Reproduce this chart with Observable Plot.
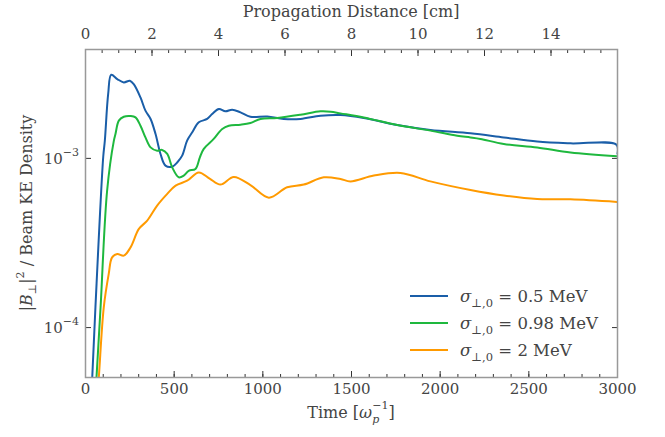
<!DOCTYPE html>
<html>
<head>
<meta charset="utf-8">
<script src="https://cdn.jsdelivr.net/npm/d3@7"></script>
<script src="https://cdn.jsdelivr.net/npm/@observablehq/plot@0.6"></script>
<style>
  html, body { margin: 0; padding: 0; background: white; }
  svg text, svg tspan { font-family: "DejaVu Serif", "Liberation Serif", serif !important; }
</style>
</head>
<body>
<div id="chart"></div>
<script>
// ---- data ----
const seriesNames = ["σ⊥,0 = 0.5 MeV", "σ⊥,0 = 0.98 MeV", "σ⊥,0 = 2 MeV"];
const seriesColors = ["#1a5ea8", "#1eb83e", "#ff9a00"];

const tBlue = [30, 38, 56, 100, 109, 128, 145, 179, 216, 250, 272, 310, 338, 367, 395, 423, 451, 489, 517, 545, 573, 602, 639, 686, 714, 752, 789, 827, 874, 930, 1025, 1118, 1212, 1325, 1438, 1569, 1758, 1945, 2171, 2359, 2547, 2735, 2994, 3000];
const vBlue = [3.16e-5, 5.07e-5, 1.318e-4, 1.023e-3, 1.271e-3, 2.41e-3, 3.119e-3, 2.944e-3, 2.812e-3, 2.877e-3, 2.748e-3, 2.291e-3, 1.914e-3, 1.71e-3, 1.393e-3, 1.062e-3, 9.06e-4, 8.93e-4, 9.46e-4, 1.038e-3, 1.274e-3, 1.426e-3, 1.633e-3, 1.71e-3, 1.828e-3, 1.959e-3, 1.897e-3, 1.941e-3, 1.871e-3, 1.762e-3, 1.77e-3, 1.71e-3, 1.71e-3, 1.786e-3, 1.803e-3, 1.734e-3, 1.574e-3, 1.472e-3, 1.406e-3, 1.33e-3, 1.259e-3, 1.227e-3, 1.205e-3, 1.067e-3];

const tGreen = [50, 62, 85, 122, 160, 169, 188, 216, 254, 282, 310, 338, 367, 404, 432, 461, 489, 526, 554, 582, 620, 645, 667, 723, 771, 808, 874, 930, 987, 1081, 1212, 1325, 1382, 1438, 1569, 1758, 1945, 2096, 2171, 2227, 2359, 2547, 2735, 2998];
const vGreen = [2.51e-5, 5.07e-5, 1.318e-4, 6.46e-4, 1.274e-3, 1.393e-3, 1.671e-3, 1.762e-3, 1.778e-3, 1.746e-3, 1.56e-3, 1.33e-3, 1.161e-3, 1.109e-3, 1.122e-3, 1.062e-3, 8.85e-4, 7.73e-4, 7.91e-4, 8.45e-4, 8.65e-4, 1.014e-3, 1.138e-3, 1.303e-3, 1.493e-3, 1.56e-3, 1.581e-3, 1.618e-3, 1.71e-3, 1.734e-3, 1.811e-3, 1.897e-3, 1.888e-3, 1.845e-3, 1.746e-3, 1.574e-3, 1.459e-3, 1.361e-3, 1.33e-3, 1.303e-3, 1.216e-3, 1.161e-3, 1.084e-3, 1.028e-3];

const tOrange = [60, 75, 103, 131, 150, 179, 216, 254, 301, 348, 404, 461, 508, 573, 639, 700, 761, 836, 930, 1034, 1137, 1231, 1344, 1438, 1494, 1626, 1776, 1945, 2171, 2359, 2547, 2735, 2998];
const vOrange = [3.16e-5, 5.07e-5, 1.318e-4, 2.075e-4, 2.6e-4, 2.723e-4, 2.661e-4, 2.979e-4, 3.828e-4, 4.285e-4, 5.26e-4, 6.17e-4, 6.9e-4, 7.38e-4, 8.26e-4, 7.59e-4, 6.998e-4, 7.76e-4, 6.95e-4, 5.86e-4, 6.75e-4, 7.0e-4, 7.73e-4, 7.55e-4, 7.31e-4, 7.91e-4, 8.2e-4, 7.31e-4, 6.5e-4, 6.03e-4, 5.75e-4, 5.73e-4, 5.53e-4];

const xTicksMajor = [0, 500, 1000, 1500, 2000, 2500, 3000];
const xTicksMinor = d3.range(0, 3001, 100);
const cmTicksMajor = [0, 2, 4, 6, 8, 10, 12, 14];
const cmTicksMinor = d3.range(0, 16.01, 0.5);
const cmPerTime = 16 / 3000;
const yTicks = [1e-4, 1e-3];
const yTickExp = ["−4", "−3"];

// ---- build table ----
const rows = [];
[[tBlue, vBlue], [tGreen, vGreen], [tOrange, vOrange]].forEach(([ts, vs], i) => {
  ts.forEach((t, j) => rows.push({t, v: vs[j], s: seriesNames[i]}));
});

const FONT = "DejaVu Serif";
const TXT = "#444";

const chart = Plot.plot({
  width: 665,
  height: 437,
  marginLeft: 85,
  marginRight: 48,
  marginTop: 49,
  marginBottom: 60,
  style: {fontFamily: FONT, fontSize: "15px", color: TXT, background: "white"},
  x: {domain: [0, 3000]},
  y: {type: "log", domain: [5.07e-5, 4.4e-3]},
  color: {domain: seriesNames, range: seriesColors},
  marks: [
    Plot.line(rows, {x: "t", y: "v", stroke: "s", z: "s", strokeWidth: 2, clip: true, curve: "catmull-rom"}),
    // bottom axis
    Plot.axisX({anchor: "bottom", ticks: xTicksMajor, tickSize: -6, tickPadding: 12, tickFormat: d => String(d), label: null, stroke: "#333"}),
    Plot.axisX({anchor: "bottom", ticks: xTicksMinor, tickSize: -3, tickFormat: () => "", label: null, stroke: "#333"}),
    // top axis (propagation distance)
    Plot.axisX({anchor: "top", ticks: cmTicksMajor.map(c => c / cmPerTime), tickSize: -6, tickPadding: 17,
      tickFormat: d => String(Math.round(d * cmPerTime)), label: null, stroke: "#333"}),
    Plot.axisX({anchor: "top", ticks: cmTicksMinor.map(c => c / cmPerTime), tickSize: -3, tickFormat: () => "", label: null, stroke: "#333"}),
    // left / right axes
    Plot.axisY({anchor: "left", ticks: yTicks, tickSize: -6, tickFormat: () => "", label: null, stroke: "#333"}),
    Plot.axisY({anchor: "right", ticks: yTicks, tickSize: -6, tickFormat: () => "", label: null, stroke: "#333"}),
    Plot.frame({stroke: "#999", strokeWidth: 1.5})
  ]
});

document.getElementById("chart").appendChild(chart);

// ---- annotations with sub/superscripts ----
const svg = d3.select(chart);
const ys = chart.scale("y");
const xs = chart.scale("x");
const g = svg.append("g").attr("fill", TXT).attr("text-anchor", "start");

// y tick labels 10^-k
yTicks.forEach((v, i) => {
  const t = g.append("text").attr("x", 79).attr("y", ys.apply(v) + 6).attr("text-anchor", "end").attr("font-size", 15);
  t.append("tspan").text("10");
  t.append("tspan").attr("dy", -8).attr("font-size", 11).text(yTickExp[i]);
});

// y axis label
const yl = g.append("text")
  .attr("transform", `translate(32,${(49 + 377) / 2}) rotate(-90)`)
  .attr("text-anchor", "middle").attr("font-size", 16);
yl.append("tspan").text("|");
yl.append("tspan").attr("font-style", "italic").text("B");
yl.append("tspan").attr("dy", 4).attr("font-size", 11).text("⊥");
yl.append("tspan").attr("dy", -4).text("|");
yl.append("tspan").attr("dy", -8).attr("font-size", 11).text("2");
yl.append("tspan").attr("dy", 8).text(" / Beam KE Density");

// x axis label (bottom)
const xmid = (xs.apply(0) + xs.apply(3000)) / 2;
const xl = g.append("text").attr("x", xmid).attr("y", 418).attr("text-anchor", "middle").attr("font-size", 16);
xl.append("tspan").text("Time [");
xl.append("tspan").attr("font-style", "italic").text("ω");
xl.append("tspan").attr("dy", 5).attr("font-size", 11).attr("font-style", "italic").text("p");
xl.append("tspan").attr("dx", -7).attr("dy", -14).attr("font-size", 11).text("−1");
xl.append("tspan").attr("dy", 9).text("]");

// top axis label
g.append("text").attr("x", xmid).attr("y", 17).attr("text-anchor", "middle").attr("font-size", 16)
  .text("Propagation Distance [cm]");

// legend
const legY = [296, 323, 350];
const legVals = ["0.5", "0.98", "2"];
seriesNames.forEach((name, i) => {
  g.append("line").attr("x1", 410).attr("x2", 448).attr("y1", legY[i]).attr("y2", legY[i])
    .attr("stroke", seriesColors[i]).attr("stroke-width", 2);
  const t = g.append("text").attr("x", 460).attr("y", legY[i] + 6).attr("text-anchor", "start").attr("font-size", 16.5);
  t.append("tspan").attr("font-style", "italic").text("σ");
  t.append("tspan").attr("dy", 5).attr("font-size", 11.5).text("⊥,0");
  t.append("tspan").attr("dy", -5).text(` = ${legVals[i]} MeV`);
});
</script>
</body>
</html>
